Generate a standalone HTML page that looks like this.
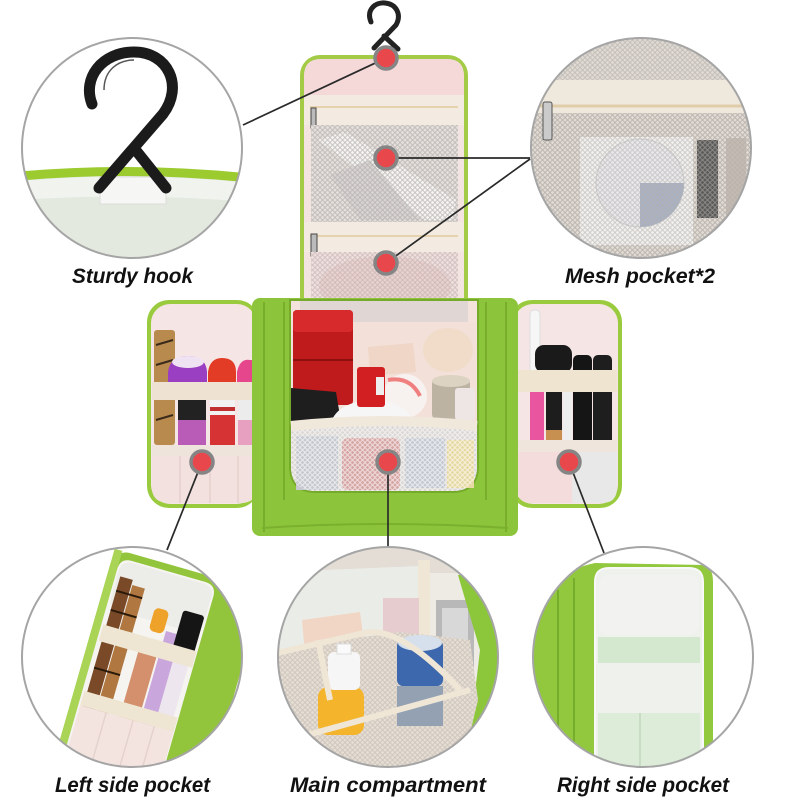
<!DOCTYPE html>
<html><head><meta charset="utf-8">
<style>
html,body{margin:0;padding:0;background:#fff;width:800px;height:800px;overflow:hidden;}
svg{display:block;}
text{font-family:"Liberation Sans",Arial,sans-serif;font-weight:bold;font-style:italic;font-size:21px;fill:#111;}
</style></head><body>
<svg width="800" height="800" viewBox="0 0 800 800" xmlns="http://www.w3.org/2000/svg" style="overflow:hidden">
<defs>
<clipPath id="c1"><circle cx="132" cy="148" r="110"/></clipPath>
<clipPath id="c2"><circle cx="641" cy="148" r="110"/></clipPath>
<clipPath id="c3"><circle cx="132" cy="657" r="110"/></clipPath>
<clipPath id="c4"><circle cx="388" cy="657" r="110"/></clipPath>
<clipPath id="c5"><circle cx="643" cy="657" r="110"/></clipPath>
<pattern id="mesh" width="5" height="5" patternUnits="userSpaceOnUse">
<path d="M0 2.5 L2.5 0 L5 2.5 L2.5 5 Z" fill="none" stroke="#b5ada6" stroke-width="0.7"/>
</pattern>
<pattern id="meshw" width="5" height="5" patternUnits="userSpaceOnUse">
<path d="M0 2.5 L2.5 0 L5 2.5 L2.5 5 Z" fill="none" stroke="#ffffff" stroke-width="0.8" opacity="0.7"/>
</pattern>
</defs>
<rect width="800" height="800" fill="#fff"/>

<!-- ===== Top-left circle: hook ===== -->
<g clip-path="url(#c1)">
<rect x="20" y="35" width="230" height="230" fill="#fff"/>
<path d="M20 178 Q132 168 250 180 L250 265 L20 265 Z" fill="#e3e9df"/>
<path d="M20 181 Q132 171 250 183 L250 202 Q132 192 20 200 Z" fill="#f1f4ee"/>
<path d="M20 176 Q132 166 250 178" stroke="#9ccb30" stroke-width="9" fill="none"/>
<rect x="100" y="177" width="66" height="27" fill="#f6f6f4" stroke="#dcdcdc" stroke-width="1"/>
<path d="M92 104 C82 78 102 52 134 52 C168 52 184 86 163 114 L99 188 M134 148 L166 188" stroke="#1b1b1b" stroke-width="11" fill="none" stroke-linecap="round" stroke-linejoin="round"/>
<path d="M104 90 C104 70 118 60 134 60" stroke="#555" stroke-width="1.5" fill="none"/>
</g>
<circle cx="132" cy="148" r="110" fill="none" stroke="#a5a5a5" stroke-width="2"/>

<!-- ===== Top-right circle: mesh ===== -->
<g clip-path="url(#c2)">
<rect x="528" y="35" width="230" height="230" fill="#dfdad4"/>
<rect x="528" y="35" width="230" height="230" fill="url(#mesh)" opacity="0.8"/>
<rect x="528" y="80" width="230" height="33" fill="#efe8dc"/>
<line x1="528" y1="106" x2="758" y2="106" stroke="#e0cdaa" stroke-width="3"/>
<rect x="580" y="137" width="113" height="108" fill="#efefef"/>
<circle cx="640" cy="183" r="44" fill="#e6e8ec" stroke="#cfcfcf" stroke-width="1"/>
<path d="M640 183 L684 183 A44 44 0 0 1 640 227 Z" fill="#a8b2c4"/>
<rect x="697" y="140" width="21" height="78" fill="#5c5c5c"/>
<rect x="726" y="138" width="20" height="100" fill="#c2bbb3"/>
<rect x="528" y="113" width="230" height="152" fill="url(#mesh)" opacity="0.7"/>
<rect x="543" y="102" width="9" height="38" rx="2" fill="#cbcbcb" stroke="#555" stroke-width="1"/>
</g>
<circle cx="641" cy="148" r="110" fill="none" stroke="#a5a5a5" stroke-width="2"/>

<!-- ===== Central bag: hook ===== -->
<path d="M371 22 C366 10 375 2 385 3 C396 4 402 14 396 25 L374 48 M384 36 L398 49" stroke="#222" stroke-width="5" fill="none" stroke-linecap="round" stroke-linejoin="round"/>

<!-- flap -->
<rect x="300" y="55" width="168" height="262" rx="20" fill="#a3cb45"/>
<rect x="304" y="59" width="160" height="258" rx="17" fill="#f3e3e1"/>
<path d="M304 95 L304 76 Q304 59 321 59 L447 59 Q464 59 464 76 L464 95 Z" fill="#f5d9d9"/>
<rect x="304" y="95" width="160" height="30" fill="#f3ebe1"/>
<line x1="310" y1="107" x2="458" y2="107" stroke="#e6d2ac" stroke-width="2"/>
<rect x="311" y="108" width="5" height="20" fill="#bbb" stroke="#444" stroke-width="1"/>
<rect x="311" y="125" width="147" height="97" fill="#e3dfdd"/>
<polygon points="318,140 345,132 456,200 452,220 425,220" fill="#f3f3f3"/>
<polygon points="330,175 370,160 420,220 360,220" fill="#d6d4d4"/>
<rect x="311" y="125" width="147" height="97" fill="url(#mesh)" opacity="0.9"/>
<rect x="304" y="222" width="160" height="30" fill="#f3ebe1"/>
<line x1="310" y1="236" x2="458" y2="236" stroke="#e6d2ac" stroke-width="2"/>
<rect x="311" y="234" width="6" height="22" fill="#bbb" stroke="#444" stroke-width="1"/>
<rect x="311" y="252" width="147" height="60" fill="#f0dddd"/>
<ellipse cx="385" cy="286" rx="66" ry="30" fill="#ebd0d0"/>
<rect x="311" y="252" width="147" height="60" fill="url(#mesh)" opacity="0.7"/>

<!-- left pocket -->
<rect x="147" y="300" width="112" height="208" rx="22" fill="#9acb3e"/>
<rect x="151" y="304" width="105" height="200" rx="19" fill="#f5e5e5"/>
<rect x="154" y="330" width="21" height="115" rx="3" fill="#b98a4e"/>
<g stroke="#3a2a1a" stroke-width="2"><line x1="156" y1="345" x2="173" y2="340"/><line x1="156" y1="365" x2="173" y2="360"/><line x1="156" y1="420" x2="173" y2="415"/></g>
<path d="M168 392 L168 372 Q170 356 188 356 Q206 356 207 372 L207 392 Z" fill="#9a3ec2"/>
<ellipse cx="188" cy="362" rx="16" ry="6" fill="#efe3f3"/>
<path d="M208 392 L208 372 Q210 358 222 358 Q236 358 236 372 L236 392 Z" fill="#e23b26"/>
<path d="M237 392 L237 372 Q240 358 250 360 L256 360 L256 392 Z" fill="#e5468c"/>
<rect x="152" y="382" width="104" height="18" fill="#eee3d2"/>
<rect x="178" y="400" width="28" height="20" fill="#222"/>
<rect x="178" y="420" width="28" height="25" fill="#b85cb8"/>
<rect x="210" y="400" width="25" height="15" fill="#f2f2f2"/>
<rect x="210" y="407" width="25" height="4" fill="#c03030"/>
<rect x="210" y="415" width="25" height="30" fill="#d63434"/>
<rect x="238" y="400" width="18" height="20" fill="#ececec"/>
<rect x="238" y="420" width="18" height="25" fill="#e7a0c0"/>
<rect x="152" y="445" width="104" height="11" fill="#efe4dc"/>
<path d="M152 456 L256 456 L256 490 Q256 503 240 503 L170 503 Q152 503 152 488 Z" fill="#f3e1df"/>
<g stroke="#e6d0cc" stroke-width="1.5"><line x1="180" y1="456" x2="180" y2="503"/><line x1="210" y1="456" x2="210" y2="503"/><line x1="238" y1="456" x2="238" y2="503"/></g>

<!-- right pocket -->
<rect x="510" y="300" width="112" height="208" rx="22" fill="#9acb3e"/>
<rect x="514" y="304" width="104" height="200" rx="19" fill="#f5e5e5"/>
<rect x="530" y="310" width="10" height="65" rx="4" fill="#f6f6f6" stroke="#ddd" stroke-width="1"/>
<rect x="535" y="345" width="37" height="28" rx="9" fill="#1a1a1a"/>
<rect x="573" y="355" width="19" height="96" rx="5" fill="#151515"/>
<rect x="593" y="355" width="19" height="96" rx="5" fill="#1e1e1e"/>
<rect x="518" y="370" width="99" height="22" fill="#eee4d0"/>
<rect x="530" y="392" width="14" height="58" fill="#e9559e"/>
<rect x="546" y="392" width="16" height="38" fill="#1d1d1d"/>
<rect x="546" y="430" width="16" height="15" fill="#c89050"/>
<rect x="563" y="392" width="9" height="55" fill="#eeeeee"/>
<rect x="518" y="440" width="99" height="12" fill="#efe5dc"/>
<path d="M518 452 L572 452 L572 503 L530 503 Q518 503 518 490 Z" fill="#f4dcdc"/>
<path d="M572 452 L617 452 L617 488 Q617 503 602 503 L572 503 Z" fill="#e8e8e8"/>

<!-- body -->
<rect x="252" y="298" width="266" height="238" rx="8" fill="#8cc53c"/>
<g stroke="#78ae2b" stroke-width="2"><line x1="264" y1="302" x2="264" y2="532"/><line x1="284" y1="302" x2="284" y2="500"/><line x1="486" y1="302" x2="486" y2="500"/><line x1="506" y1="302" x2="506" y2="532"/></g>
<path d="M262 528 Q385 520 508 528" stroke="#7bb02e" stroke-width="2" fill="none"/>
<path d="M290 300 L478 300 L478 466 Q478 492 452 492 L316 492 Q290 492 290 466 Z" fill="#f3e3dc" stroke="#76aa2a" stroke-width="2"/>
<rect x="300" y="301" width="168" height="21" fill="#e0d6d4"/>
<rect x="291" y="322" width="186" height="100" fill="#f3e0d8"/>
<ellipse cx="448" cy="350" rx="25" ry="22" fill="#f0dcc8"/>
<polygon points="368,347 413,343 416,372 370,376" fill="#efd6c6"/>
<rect x="293" y="310" width="60" height="95" rx="4" fill="#bf1a1c"/>
<rect x="293" y="310" width="60" height="22" rx="4" fill="#d62a2c"/>
<line x1="293" y1="360" x2="353" y2="360" stroke="#8e0f10" stroke-width="2"/>
<polygon points="291,388 336,392 340,416 300,424 291,422" fill="#1e1e1e"/>
<circle cx="405" cy="396" r="22" fill="#f7f2f0"/>
<path d="M388 380 Q410 376 420 396" stroke="#f08080" stroke-width="4" fill="none"/>
<rect x="432" y="378" width="38" height="42" rx="6" fill="#bdb3a3"/>
<ellipse cx="451" cy="381" rx="19" ry="6" fill="#dcd3c2"/>
<rect x="455" y="388" width="20" height="32" rx="3" fill="#eee6e4"/>
<path d="M330 426 Q335 402 372 400 Q410 402 415 426 Z" fill="#f6f6f6"/>
<rect x="357" y="367" width="28" height="40" rx="3" fill="#d21f22"/>
<rect x="376" y="377" width="8" height="18" fill="#eee"/>
<path d="M291 428 Q385 418 477 428 L477 466 Q477 491 452 491 L316 491 Q291 491 291 466 Z" fill="#dcd8d6"/>
<rect x="296" y="436" width="42" height="54" fill="#c6cad0"/>
<rect x="342" y="438" width="58" height="52" rx="6" fill="#d7a7a6"/>
<rect x="405" y="438" width="40" height="50" fill="#c5cad2"/>
<rect x="447" y="440" width="27" height="48" fill="#e7d9a4"/>
<path d="M291 428 Q385 418 477 428 L477 466 Q477 491 452 491 L316 491 Q291 491 291 466 Z" fill="url(#meshw)"/>
<path d="M291 426 Q385 416 477 426" stroke="#f1e8dc" stroke-width="10" fill="none"/>

<!-- connectors -->
<g stroke="#2a2a2a" stroke-width="1.7" fill="none">
<line x1="386" y1="58" x2="243" y2="125"/>
<line x1="386" y1="158" x2="530" y2="158"/>
<line x1="386" y1="263" x2="530" y2="159"/>
<line x1="202" y1="462" x2="167" y2="550"/>
<line x1="388" y1="462" x2="388" y2="548"/>
<line x1="569" y1="462" x2="604" y2="553"/>
</g>

<!-- dots -->
<g fill="#e8474c" stroke="#858585" stroke-width="3.5">
<circle cx="386" cy="58" r="11"/>
<circle cx="386" cy="158" r="11"/>
<circle cx="386" cy="263" r="11"/>
<circle cx="202" cy="462" r="11"/>
<circle cx="388" cy="462" r="11"/>
<circle cx="569" cy="462" r="11"/>
</g>

<!-- ===== Bottom-left circle ===== -->
<g clip-path="url(#c3)">
<rect x="20" y="545" width="230" height="230" fill="#fff"/>
<g transform="rotate(16 140 660)">
<rect x="85" y="560" width="155" height="215" rx="16" fill="#92c53b"/>
<rect x="85" y="560" width="8" height="215" fill="#a9d455"/>
<path d="M93 775 L93 579 Q93 567 105 567 L181 567 Q193 567 193 579 L193 775 Z" fill="#f6f4f0"/>
<rect x="95" y="569" width="96" height="50" rx="10" fill="#ecece8"/>
<rect x="98" y="585" width="13" height="140" fill="#7a4a28"/>
<rect x="112" y="590" width="13" height="135" fill="#b07840"/>
<g stroke="#2a1a0a" stroke-width="2"><line x1="98" y1="600" x2="125" y2="600"/><line x1="98" y1="620" x2="125" y2="620"/><line x1="98" y1="680" x2="125" y2="680"/></g>
<rect x="136" y="645" width="19" height="80" fill="#d4906c"/>
<rect x="157" y="625" width="15" height="100" fill="#c9a6dc"/>
<rect x="140" y="605" width="15" height="24" rx="5" fill="#eea22a"/>
<rect x="168" y="600" width="22" height="52" rx="3" fill="#151515"/>
<rect x="172" y="652" width="16" height="72" fill="#ede6ee"/>
<rect x="95" y="636" width="97" height="17" fill="#eee5d2"/>
<rect x="95" y="705" width="97" height="15" fill="#eee5d2"/>
<rect x="95" y="720" width="97" height="55" fill="#f4e4e0"/>
<g stroke="#e4d2cc" stroke-width="1.5"><line x1="122" y1="720" x2="122" y2="775"/><line x1="150" y1="720" x2="150" y2="775"/><line x1="172" y1="720" x2="172" y2="775"/></g>
</g>
</g>
<circle cx="132" cy="657" r="110" fill="none" stroke="#a5a5a5" stroke-width="2"/>

<!-- ===== Bottom-middle circle ===== -->
<g clip-path="url(#c4)">
<rect x="275" y="545" width="230" height="230" fill="#eeebe5"/>
<rect x="275" y="545" width="230" height="28" fill="#e3ddd5"/>
<path d="M275 572 L420 566 L425 620 L275 650 Z" fill="#eaede7"/>
<rect x="418" y="560" width="12" height="80" fill="#efe6d6"/>
<rect x="383" y="598" width="36" height="36" fill="#e6cccf"/>
<polygon points="302,620 360,612 365,650 305,655" fill="#f1d6c6"/>
<rect x="436" y="600" width="38" height="68" fill="#b8b8b8"/>
<rect x="442" y="608" width="26" height="52" fill="#d8d8d8"/>
<polygon points="458,575 505,575 505,735 470,735 480,650" fill="#8cc63a"/>
<polygon points="275,652 340,640 400,632 470,640 478,700 460,775 275,775" fill="#e6ded3"/>
<polygon points="275,652 340,640 400,632 470,640 478,700 460,775 275,775" fill="url(#mesh)" opacity="0.6"/>
<rect x="397" y="640" width="46" height="46" rx="6" fill="#3d68ae"/>
<ellipse cx="420" cy="643" rx="22" ry="8" fill="#d6e0ec"/>
<rect x="397" y="686" width="46" height="40" fill="#93a1b3"/>
<rect x="318" y="687" width="46" height="48" rx="10" fill="#f4b52c"/>
<rect x="328" y="652" width="32" height="38" rx="6" fill="#f6f6f6"/>
<rect x="337" y="644" width="14" height="10" fill="#fafafa" stroke="#ddd" stroke-width="1"/>
<g stroke="#efe6d6" stroke-width="6" fill="none">
<path d="M277 653 L364 633"/>
<path d="M364 633 Q400 625 460 690"/>
<path d="M300 737 L470 690"/>
<path d="M318 640 L330 700"/>
</g>
</g>
<circle cx="388" cy="657" r="110" fill="none" stroke="#a5a5a5" stroke-width="2"/>

<!-- ===== Bottom-right circle ===== -->
<g clip-path="url(#c5)">
<rect x="530" y="545" width="230" height="230" fill="#fff"/>
<path d="M530 620 Q540 575 595 563 L705 565 Q713 568 713 582 L713 790 L530 790 Z" fill="#92c83e"/>
<g stroke="#76ad2a" stroke-width="2"><line x1="558" y1="590" x2="558" y2="790"/><line x1="574" y1="578" x2="574" y2="790"/></g>
<path d="M595 790 L595 582 Q595 568 609 568 L689 568 Q703 568 703 582 L703 790 Z" fill="#eef1ec" stroke="#f8f8f8" stroke-width="2"/>
<rect x="599" y="575" width="100" height="60" rx="10" fill="#f2f3f0"/>
<rect x="598" y="637" width="102" height="26" fill="#d3e8cf"/>
<rect x="598" y="713" width="102" height="60" fill="#dcecd8"/>
<line x1="640" y1="713" x2="640" y2="773" stroke="#c8dcc4" stroke-width="2"/>
</g>
<circle cx="643" cy="657" r="110" fill="none" stroke="#a5a5a5" stroke-width="2"/>

<!-- labels -->
<text x="72" y="283" textLength="121" lengthAdjust="spacingAndGlyphs">Sturdy hook</text>
<text x="565" y="283" textLength="150" lengthAdjust="spacingAndGlyphs">Mesh pocket*2</text>
<text x="55" y="792" textLength="155" lengthAdjust="spacingAndGlyphs">Left side pocket</text>
<text x="290" y="792" textLength="196" lengthAdjust="spacingAndGlyphs">Main compartment</text>
<text x="557" y="792" textLength="172" lengthAdjust="spacingAndGlyphs">Right side pocket</text>
</svg>
</body></html>
